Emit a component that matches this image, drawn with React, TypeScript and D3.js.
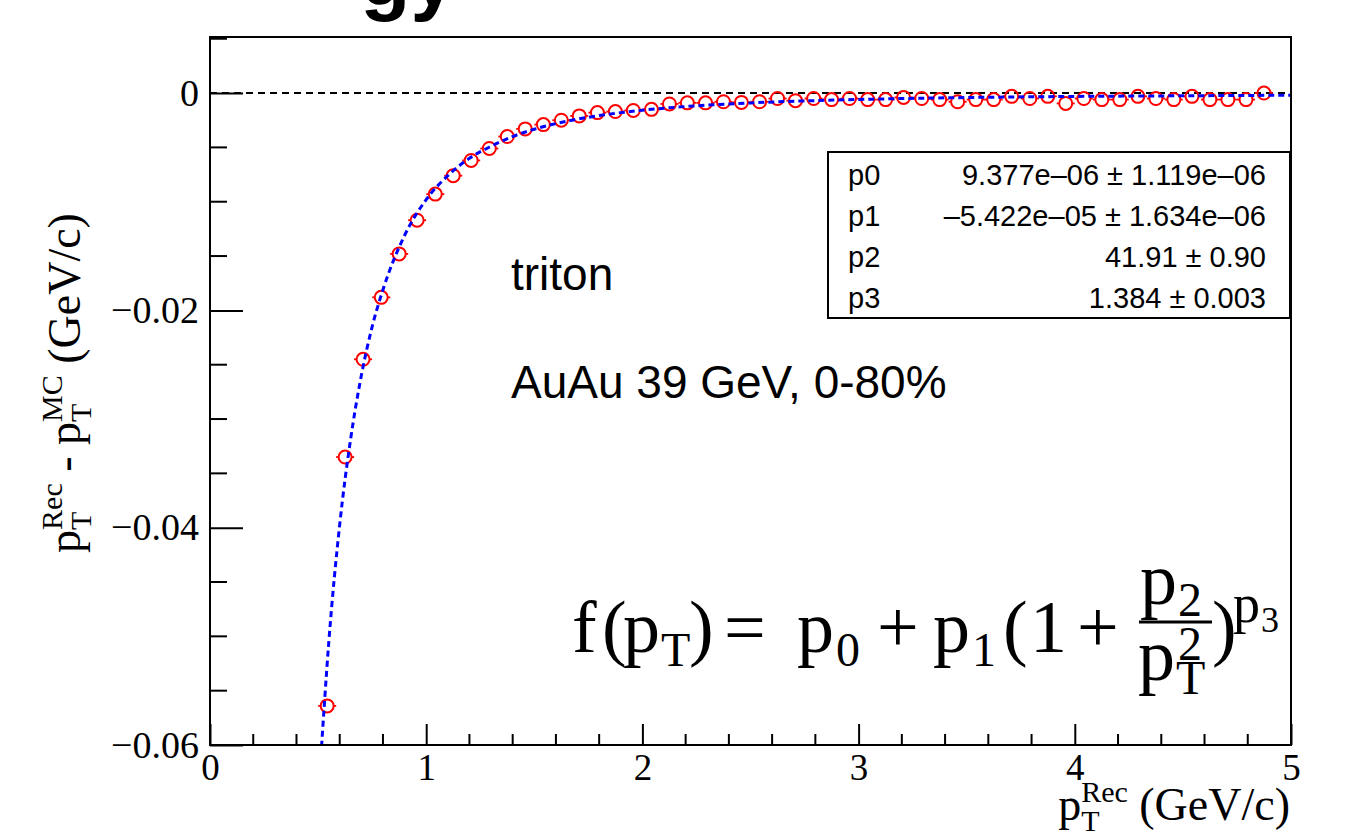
import { useEffect, useRef } from 'react';
import * as d3 from 'd3';

// bin centres of p_T^Rec (GeV/c)
const ptRec = [
  0.542, 0.625, 0.708, 0.792, 0.875, 0.958, 1.042, 1.125, 1.208, 1.292,
  1.375, 1.458, 1.542, 1.625, 1.708, 1.792, 1.875, 1.958, 2.042, 2.125,
  2.208, 2.292, 2.375, 2.458, 2.542, 2.625, 2.708, 2.792, 2.875, 2.958,
  3.042, 3.125, 3.208, 3.292, 3.375, 3.458, 3.542, 3.625, 3.708, 3.792,
  3.875, 3.958, 4.042, 4.125, 4.208, 4.292, 4.375, 4.458, 4.542, 4.625,
  4.708, 4.792, 4.875,
];
// p_T^Rec - p_T^MC (GeV/c)
const dPt = [
  -0.0564, -0.0335, -0.0245, -0.0188, -0.0148, -0.0117, -0.0093, -0.0076, -0.0062, -0.0051,
  -0.0040, -0.0033, -0.0029, -0.0025, -0.0021, -0.0018, -0.0017, -0.0016, -0.0015, -0.0010,
  -0.0009, -0.0009, -0.0008, -0.00086, -0.0008, -0.0005, -0.0007, -0.0005, -0.0006, -0.0005,
  -0.0006, -0.0006, -0.0004, -0.0005, -0.0006, -0.0008, -0.0006, -0.0006, -0.0003, -0.0005,
  -0.0003, -0.00095, -0.0005, -0.0006, -0.0006, -0.0003, -0.0005, -0.0006, -0.0003, -0.0006,
  -0.0006, -0.0006, 0.0000,
];
const binHalfWidth = 1 / 24;

// fitted curve
const fitPt = [0.51, 0.55, 0.6, 0.65, 0.7, 0.75, 0.8, 0.9, 1.0, 1.1, 1.2, 1.3, 1.4, 1.5, 1.6, 1.8, 2.0, 2.2, 2.5, 3.0, 3.5, 4.0, 4.5, 5.0];
const fitVal = [-0.0620, -0.0504, -0.0397, -0.0319, -0.0260, -0.0215, -0.0181, -0.0131, -0.0098, -0.0076, -0.0060, -0.0049, -0.0040, -0.00333, -0.00281, -0.00207, -0.00158, -0.00124, -0.00091, -0.00059, -0.00041, -0.00031, -0.00025, -0.00020];

const xTicks = [0, 1, 2, 3, 4, 5];
const xTickLabels = ['0', '1', '2', '3', '4', '5'];
const yTicks = [0, -0.02, -0.04, -0.06];
const yTickLabels = ['0', '\u22120.02', '\u22120.04', '\u22120.06'];

const parNames = ['p0', 'p1', 'p2', 'p3'];
const parValues = [
  '9.377e\u201306 \u00b1 1.119e\u201306',
  '\u20135.422e\u201305 \u00b1 1.634e\u201306',
  '41.91 \u00b1 0.90',
  '1.384 \u00b1 0.003',
];

const App = () => {
  const svgRef = useRef<SVGSVGElement>(null);

  useEffect(() => {
    const width = 1347;
    const height = 837;
    const frame = { left: 210, right: 1291, top: 37, bottom: 745 };
    const serif = '"Liberation Serif", "Times New Roman", serif';
    const sans = '"Liberation Sans", Arial, sans-serif';

    const svg = d3.select(svgRef.current)
      .attr('width', width)
      .attr('height', height);
    svg.selectAll('*').remove();

    svg.append('rect').attr('width', width).attr('height', height).attr('fill', '#fff');

    const x = d3.scaleLinear().domain([0, 5]).range([frame.left, frame.right]);
    const y = d3.scaleLinear().domain([-0.06, 0.00516]).range([frame.bottom, frame.top]);

    // bottom of the slide title, cut by the page edge
    svg.append('text')
      .attr('x', 456).attr('y', 5)
      .attr('text-anchor', 'end')
      .attr('font-family', sans).attr('font-size', 82).attr('font-weight', 'bold')
      .text('gy');

    svg.append('defs').append('clipPath').attr('id', 'plot-clip')
      .append('rect')
      .attr('x', frame.left).attr('y', frame.top)
      .attr('width', frame.right - frame.left).attr('height', frame.bottom - frame.top);

    // minor ticks
    const yMinor = d3.range(-0.06, 0.0052, 0.005).filter(v => !yTicks.some(t => Math.abs(t - v) < 1e-6));
    svg.append('g').selectAll('line').data(yMinor).enter().append('line')
      .attr('x1', frame.left).attr('x2', frame.left + 17)
      .attr('y1', d => y(d)).attr('y2', d => y(d))
      .attr('stroke', '#000').attr('stroke-width', 2);
    const xMinor = d3.range(0, 5.001, 0.2).filter(v => Math.abs(v - Math.round(v)) > 1e-6);
    svg.append('g').selectAll('line').data(xMinor).enter().append('line')
      .attr('x1', d => x(d)).attr('x2', d => x(d))
      .attr('y1', frame.bottom).attr('y2', frame.bottom - 11)
      .attr('stroke', '#000').attr('stroke-width', 2);

    // major ticks and labels
    const yAxis = d3.axisLeft(y)
      .tickValues(yTicks)
      .tickFormat((_, i) => yTickLabels[i])
      .tickSizeInner(-33).tickSizeOuter(0).tickPadding(11);
    const gy = svg.append('g').attr('transform', `translate(${frame.left},0)`).call(yAxis);
    gy.select('.domain').remove();
    gy.selectAll('line').attr('stroke-width', 2);
    gy.selectAll('text').attr('font-family', serif).attr('font-size', 38).attr('fill', '#000');

    const xAxis = d3.axisBottom(x)
      .tickValues(xTicks)
      .tickFormat((_, i) => xTickLabels[i])
      .tickSizeInner(-21).tickSizeOuter(0).tickPadding(9);
    const gx = svg.append('g').attr('transform', `translate(0,${frame.bottom})`).call(xAxis);
    gx.select('.domain').remove();
    gx.selectAll('line').attr('stroke-width', 2);
    gx.selectAll('text').attr('font-family', serif).attr('font-size', 37).attr('fill', '#000');

    // zero reference line
    svg.append('line')
      .attr('x1', x(0)).attr('x2', x(5))
      .attr('y1', y(0)).attr('y2', y(0))
      .attr('stroke', '#000').attr('stroke-width', 2)
      .attr('stroke-dasharray', '7,5');

    // data points with horizontal bin-width bars
    const r = 6.5;
    const pts = svg.append('g').attr('clip-path', 'url(#plot-clip)');
    ptRec.forEach((p, i) => {
      const cx = x(p);
      const cy = y(dPt[i]);
      pts.append('line')
        .attr('x1', x(p - binHalfWidth)).attr('x2', cx - r)
        .attr('y1', cy).attr('y2', cy)
        .attr('stroke', '#ff0000').attr('stroke-width', 1.8);
      pts.append('line')
        .attr('x1', cx + r).attr('x2', x(p + binHalfWidth))
        .attr('y1', cy).attr('y2', cy)
        .attr('stroke', '#ff0000').attr('stroke-width', 1.8);
      pts.append('circle')
        .attr('cx', cx).attr('cy', cy).attr('r', r)
        .attr('fill', 'none').attr('stroke', '#ff0000').attr('stroke-width', 2);
    });

    // fit function
    const fitLine = d3.line<number>()
      .x(d => x(d))
      .y((_, i) => y(fitVal[i]))
      .curve(d3.curveMonotoneX);
    svg.append('path')
      .attr('clip-path', 'url(#plot-clip)')
      .attr('d', fitLine(fitPt))
      .attr('fill', 'none')
      .attr('stroke', '#0000ff').attr('stroke-width', 3)
      .attr('stroke-dasharray', '6,4');

    // frame
    svg.append('rect')
      .attr('x', frame.left).attr('y', frame.top)
      .attr('width', frame.right - frame.left).attr('height', frame.bottom - frame.top)
      .attr('fill', 'none').attr('stroke', '#000').attr('stroke-width', 2);

    // stats box
    const box = { x: 828, y: 152, w: 462, h: 166 };
    svg.append('rect')
      .attr('x', box.x).attr('y', box.y).attr('width', box.w).attr('height', box.h)
      .attr('fill', '#fff').attr('stroke', '#000').attr('stroke-width', 2);
    parNames.forEach((name, i) => {
      const by = 185 + i * 41;
      svg.append('text').attr('x', 848).attr('y', by)
        .attr('font-family', sans).attr('font-size', 29).text(name);
      svg.append('text').attr('x', 1266).attr('y', by)
        .attr('text-anchor', 'end')
        .attr('font-family', sans).attr('font-size', 29).text(parValues[i]);
    });

    // annotations
    svg.append('text').attr('x', 511).attr('y', 290)
      .attr('font-family', sans).attr('font-size', 46).text('triton');
    svg.append('text').attr('x', 511).attr('y', 398)
      .attr('font-family', sans).attr('font-size', 46).text('AuAu 39 GeV, 0-80%');

    // axis titles
    const xt = svg.append('text')
      .attr('x', 1290).attr('y', 820)
      .attr('text-anchor', 'end')
      .attr('font-family', serif).attr('font-size', 46);
    xt.append('tspan').text('p');
    xt.append('tspan').attr('font-size', 30).attr('dy', 11).text('T');
    xt.append('tspan').attr('font-size', 30).attr('dx', -18.3).attr('dy', -29).text('Rec');
    xt.append('tspan').attr('dy', 18).text(' (GeV/c)');

    const yt = svg.append('text')
      .attr('transform', 'translate(80,383) rotate(-90)')
      .attr('text-anchor', 'middle')
      .attr('font-family', serif).attr('font-size', 46);
    yt.append('tspan').text('p');
    yt.append('tspan').attr('font-size', 30).attr('dy', 11).text('T');
    yt.append('tspan').attr('font-size', 30).attr('dx', -18.3).attr('dy', -29).text('Rec');
    yt.append('tspan').attr('dy', 18).text(' - p');
    yt.append('tspan').attr('font-size', 30).attr('dy', 11).text('T');
    yt.append('tspan').attr('font-size', 30).attr('dx', -18.3).attr('dy', -29).text('MC');
    yt.append('tspan').attr('dy', 18).text(' (GeV/c)');

    // fit formula
    const fx = (tx: number, ty: number, str: string, size: number) =>
      svg.append('text').attr('x', tx).attr('y', ty)
        .attr('font-family', serif).attr('font-size', size).text(str);
    const base = 652;
    const big = 74;
    const small = 48;
    fx(572, base, 'f', big);
    fx(602, base, '(', big);
    fx(623, base, 'p', big);
    fx(661, base + 14, 'T', small);
    fx(689, base, ')', big);
    fx(724, base, '=', big);
    fx(797, base, 'p', big);
    fx(836, base + 14, '0', small);
    fx(877, base, '+', big);
    fx(933, base, 'p', big);
    fx(972, base + 14, '1', small);
    fx(1003, base, '(', big);
    fx(1030, base, '1', big);
    fx(1077, base, '+', big);
    svg.append('line')
      .attr('x1', 1139).attr('x2', 1212).attr('y1', 622).attr('y2', 622)
      .attr('stroke', '#000').attr('stroke-width', 3);
    fx(1140, 604, 'p', big);
    fx(1178, 616, '2', small);
    fx(1138, 680, 'p', big);
    fx(1176, 694, 'T', small);
    fx(1178, 660, '2', small);
    fx(1212, base, ')', big);
    fx(1233, 622, 'p', 54);
    fx(1261, 632, '3', 36);
  }, []);

  return <svg ref={svgRef} style={{ position: 'fixed', top: 0, left: 0 }}></svg>;
};

export default App;
